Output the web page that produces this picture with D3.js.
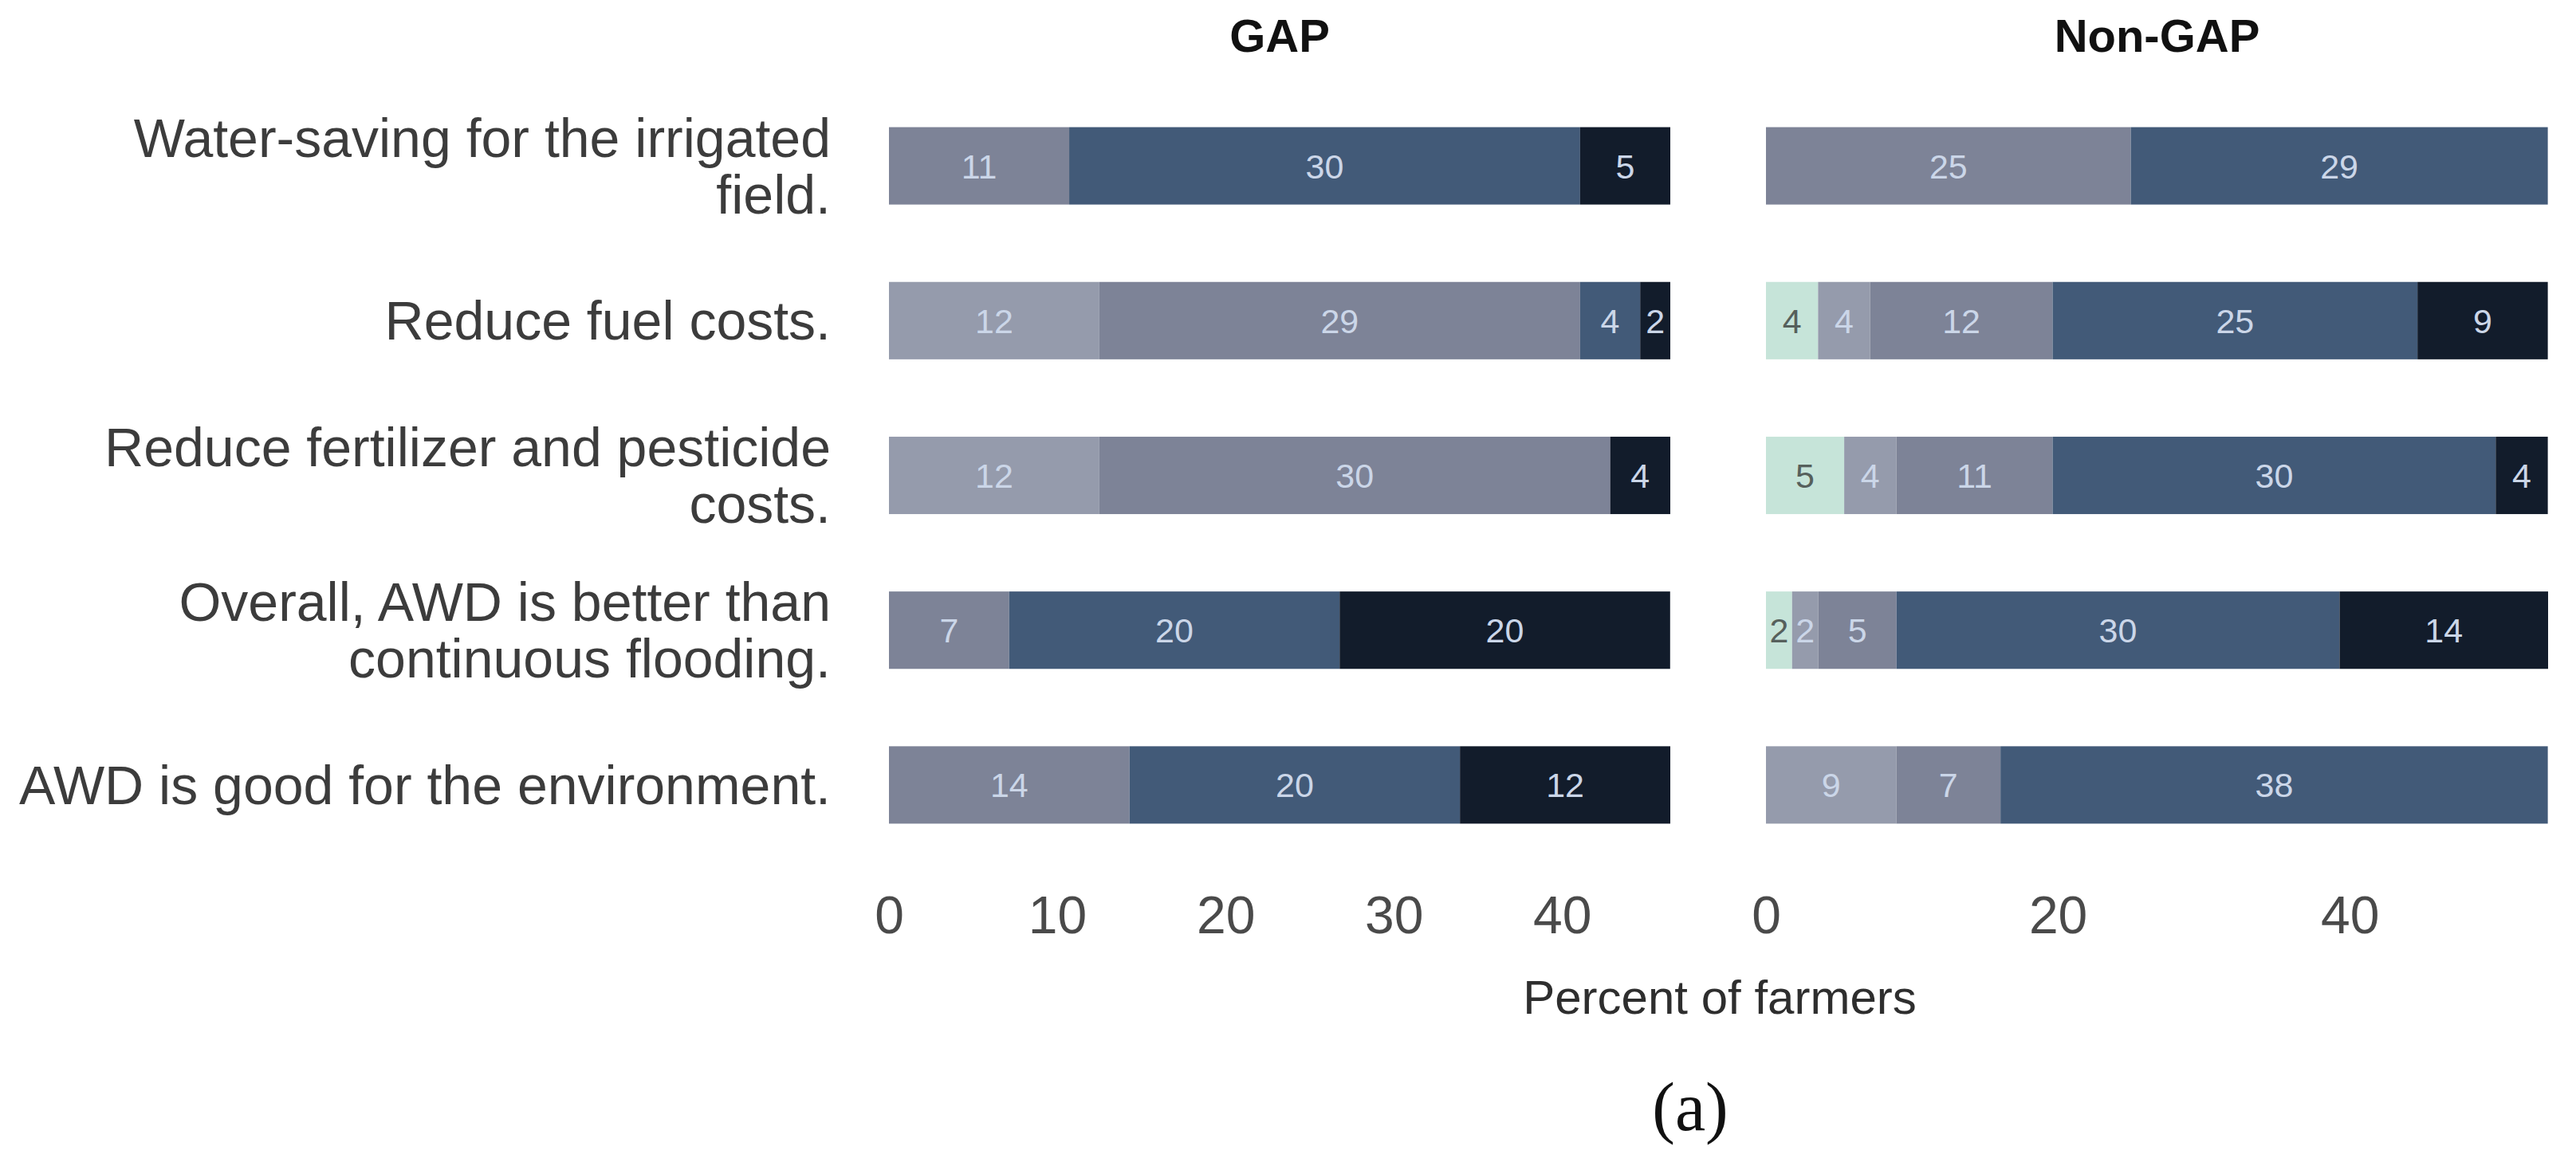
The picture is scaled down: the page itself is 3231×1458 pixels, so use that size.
<!DOCTYPE html>
<html>
<head>
<meta charset="utf-8">
<script src="https://cdn.jsdelivr.net/npm/d3@7"></script>
<style>
  body { margin: 0; background: #fff; }
  text { font-family: "Liberation Sans", Arial, sans-serif; }
</style>
</head>
<body>
<svg id="chart"></svg>
<script>
// statements (rows, top to bottom); each string is one text line
var statements = [
  ["Water-saving for the irrigated", "field."],
  ["Reduce fuel costs."],
  ["Reduce fertilizer and pesticide", "costs."],
  ["Overall, AWD is better than", "continuous flooding."],
  ["AWD is good for the environment."]
];

// response levels, stacked left to right
var levels = ["Strongly disagree", "Disagree", "Neutral", "Agree", "Strongly agree"];
var levelColors = ["#c6e4d9", "#959bac", "#7d8397", "#425a78", "#121c2b"];

// percent of farmers per statement, one value per level
var gapValues = [
  [0, 0, 10.71, 30.36, 5.36],
  [0, 12.5, 28.57, 3.57, 1.79],
  [0, 12.5, 30.36, 0, 3.57],
  [0, 0, 7.14, 19.64, 19.64],
  [0, 0, 14.29, 19.64, 12.5]
];
var nonGapValues = [
  [0, 0, 25.0, 28.57, 0],
  [3.57, 3.57, 12.5, 25.0, 8.93],
  [5.36, 3.57, 10.71, 30.36, 3.57],
  [1.79, 1.79, 5.36, 30.36, 14.29],
  [0, 8.93, 7.14, 37.5, 0]
];

var gapTicks = [0, 10, 20, 30, 40];
var nonGapTicks = [0, 20, 40];

var panels = [
  {title: "GAP", values: gapValues, ticks: gapTicks, x0: 1115, x1: 2095},
  {title: "Non-GAP", values: nonGapValues, ticks: nonGapTicks, x0: 2215, x1: 3196}
];

var WIDTH = 3231, HEIGHT = 1458;
var svg = d3.select("#chart").attr("width", WIDTH).attr("height", HEIGHT);
svg.append("rect").attr("width", WIDTH).attr("height", HEIGHT).attr("fill", "#fff");

var yScale = d3.scaleBand()
  .domain(d3.range(statements.length))
  .range([111, 1082])
  .paddingInner(0.5)
  .paddingOuter(0.25);

// R style rounding (half to even) for the labels
function roundLabel(v) {
  var f = Math.floor(v), d = v - f;
  if (Math.abs(d - 0.5) < 1e-9) return (f % 2 === 0) ? f : f + 1;
  return Math.round(v);
}

// row labels
var rowLabels = svg.append("g").attr("class", "row-labels");
statements.forEach(function (lines, i) {
  var cy = yScale(i) + yScale.bandwidth() / 2;
  var lh = 71;
  var first = cy + 24 - (lines.length - 1) * lh / 2;
  var t = rowLabels.append("text")
    .attr("text-anchor", "end")
    .attr("font-size", 68)
    .attr("fill", "#3c3c3c");
  lines.forEach(function (ln, k) {
    t.append("tspan").attr("x", 1042).attr("y", first + k * lh).text(ln);
  });
});

panels.forEach(function (p) {
  var totals = p.values.map(function (r) { return d3.sum(r); });
  var xScale = d3.scaleLinear()
    .domain([0, d3.max(totals)])
    .range([p.x0, p.x1]);

  var g = svg.append("g");

  g.append("text")
    .attr("x", (p.x0 + p.x1) / 2)
    .attr("y", 65)
    .attr("text-anchor", "middle")
    .attr("font-size", 58)
    .attr("font-weight", "bold")
    .attr("fill", "#111")
    .text(p.title);

  var segs = [];
  p.values.forEach(function (row, i) {
    var acc = 0;
    row.forEach(function (v, j) {
      if (v > 0) segs.push({row: i, level: j, start: acc, value: v});
      acc += v;
    });
  });

  g.selectAll("rect.seg")
    .data(segs)
    .enter().append("rect")
    .attr("class", "seg")
    .attr("x", function (d) { return xScale(d.start); })
    .attr("y", function (d) { return yScale(d.row); })
    .attr("width", function (d) { return xScale(d.start + d.value) - xScale(d.start); })
    .attr("height", yScale.bandwidth())
    .attr("fill", function (d) { return levelColors[d.level]; });

  g.selectAll("text.seg-label")
    .data(segs)
    .enter().append("text")
    .attr("class", "seg-label")
    .attr("x", function (d) { return xScale(d.start + d.value / 2); })
    .attr("y", function (d) { return yScale(d.row) + yScale.bandwidth() / 2; })
    .attr("dy", "0.36em")
    .attr("text-anchor", "middle")
    .attr("font-size", 43)
    .attr("fill", function (d) { return d.level === 0 ? "#56605c" : "#cbd6e8"; })
    .text(function (d) { return roundLabel(d.value); });

  var axis = g.append("g")
    .attr("transform", "translate(0,1082)")
    .call(d3.axisBottom(xScale).tickValues(p.ticks).tickSize(0).tickPadding(42).tickFormat(d3.format("d")))
    .call(function (a) { a.select(".domain").remove(); });
  axis.selectAll("text")
    .attr("font-size", 66)
    .attr("font-family", "Liberation Sans, Arial, sans-serif")
    .attr("fill", "#4a4a4a");
});

svg.append("text")
  .attr("x", 2157)
  .attr("y", 1272)
  .attr("text-anchor", "middle")
  .attr("font-size", 60)
  .attr("fill", "#2e2e2e")
  .text("Percent of farmers");

svg.append("text")
  .attr("x", 2120)
  .attr("y", 1418)
  .attr("text-anchor", "middle")
  .attr("font-size", 86)
  .attr("fill", "#111")
  .style("font-family", "Liberation Serif, Times New Roman, serif")
  .text("(a)");
</script>
</body>
</html>
